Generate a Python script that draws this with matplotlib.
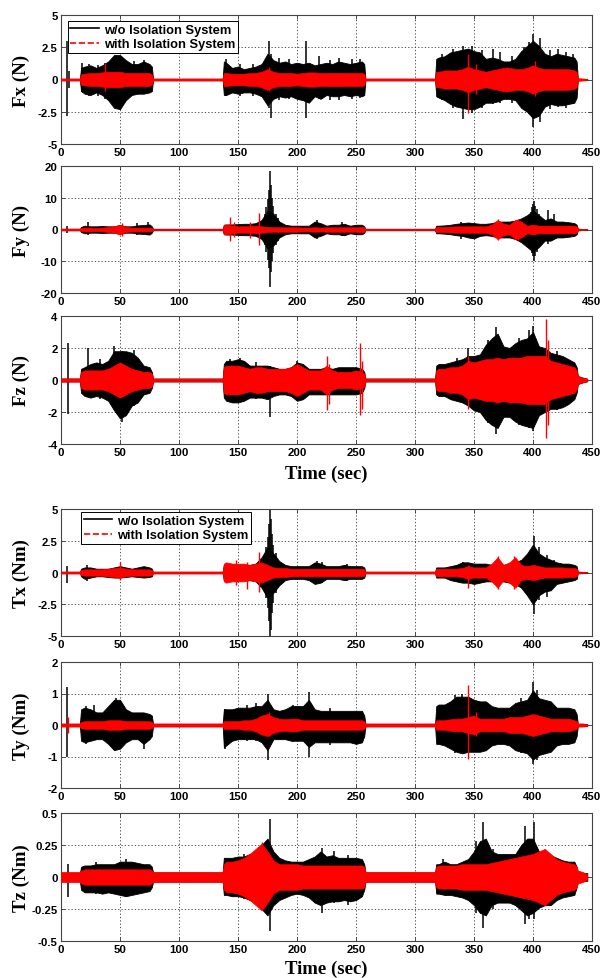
import matplotlib
matplotlib.use('Agg')
import matplotlib.pyplot as plt
from matplotlib.lines import Line2D

# ---------------- data (envelopes) ----------------
T = [0, 16,
     17, 20, 25, 30, 35, 40, 45, 50, 55, 60, 65, 70, 75, 77,
     78, 100, 120, 137,
     138, 140, 145, 150, 155, 160, 165, 170, 175, 180, 185, 190, 195, 200, 205, 210, 215, 220, 225, 230, 235, 240, 245, 250, 255, 257,
     258, 280, 300, 317,
     318, 320, 325, 330, 335, 340, 345, 350, 355, 360, 365, 370, 375, 380, 385, 390, 395, 400, 405, 410, 415, 420, 425, 430, 435, 437,
     438, 442, 446]

# Fx
FX_BLK_HI = [0.05, 0.05,
             0.9, 1.0, 1.1, 0.9, 1.1, 1.4, 1.9, 1.9, 1.5, 1.2, 1.2, 1.4, 1.2, 1.0,
             0.05, 0.05, 0.05, 0.05,
             1.4, 1.3, 0.9, 1.0, 0.8, 0.9, 1.0, 1.2, 2.0, 1.5, 1.3, 1.4, 1.2, 1.3, 1.2, 1.3, 1.1, 1.2, 1.3, 1.2, 1.4, 1.3, 1.2, 1.3, 1.4, 1.2,
             0.05, 0.05, 0.05, 0.05,
             1.6, 1.7, 1.8, 2.1, 2.2, 2.3, 2.4, 2.2, 2.1, 1.6, 1.7, 1.6, 1.4, 1.4, 1.6, 2.2, 2.6, 3.0, 2.6, 2.0, 1.8, 2.0, 1.9, 1.8, 1.7, 1.4,
             0.04, 0.04, 0.04]
FX_BLK_LO = [-0.05, -0.05,
             -0.9, -1.1, -1.2, -1.0, -1.2, -1.6, -2.2, -2.3, -1.6, -1.2, -1.1, -1.1, -1.0, -0.9,
             -0.05, -0.05, -0.05, -0.05,
             -1.2, -1.2, -1.0, -1.1, -1.0, -1.0, -1.1, -1.3, -2.0, -1.5, -1.3, -1.4, -1.3, -1.5, -1.6, -1.8, -1.3, -1.5, -1.2, -1.3, -1.3, -1.2, -1.3, -1.2, -1.3, -1.2,
             -0.05, -0.05, -0.05, -0.05,
             -1.3, -1.4, -1.6, -1.9, -2.1, -2.2, -2.3, -2.3, -2.1, -1.8, -1.8, -1.7, -1.5, -1.5, -1.6, -2.2, -2.5, -3.0, -2.8, -2.1, -1.9, -2.0, -2.0, -1.9, -1.8, -1.4,
             -0.04, -0.04, -0.04]
FX_RED = [0.08, 0.08,
          0.4, 0.45, 0.5, 0.5, 0.55, 0.6, 0.6, 0.6, 0.5, 0.5, 0.5, 0.5, 0.5, 0.4,
          0.08, 0.08, 0.08, 0.08,
          0.5, 0.5, 0.45, 0.45, 0.45, 0.5, 0.5, 0.6, 0.8, 0.6, 0.5, 0.5, 0.5, 0.45, 0.5, 0.55, 0.55, 0.5, 0.5, 0.5, 0.5, 0.5, 0.5, 0.5, 0.5, 0.45,
          0.08, 0.08, 0.08, 0.08,
          0.6, 0.6, 0.7, 0.7, 0.7, 0.8, 1.0, 0.8, 0.7, 0.6, 0.7, 0.8, 0.9, 0.9, 0.8, 0.8, 0.9, 1.1, 0.9, 0.8, 0.8, 0.8, 0.8, 0.8, 0.7, 0.6,
          0.1, 0.08, 0.04]
FX_BLK_SPK = [(5, 3.0, -2.8), (7, 0.65, -0.65), (17.5, 1.3, -1.0), (24, 1.2, -1.3), (31, 1.1, -1.3),
              (37, 1.3, -1.5), (62, 1.4, -1.2), (70, 1.55, -1.0), (140, 1.6, -1.3), (152, 1.2, -1.3),
              (163, 1.2, -1.3), (176, 3.0, -2.2), (178, 2.0, -3.0), (185, 1.7, -1.6), (193, 1.6, -1.5),
              (208, 3.0, -3.0), (219, 1.8, -1.5), (228, 1.5, -1.6), (236, 1.7, -1.6), (247, 1.6, -1.5),
              (253, 1.6, -1.4), (323, 2.0, -1.6), (332, 2.4, -2.2), (341, 2.6, -3.1), (348, 2.6, -2.6),
              (357, 2.3, -2.2), (366, 2.4, -1.9), (372, 2.1, -1.8), (382, 1.8, -1.8), (392, 2.5, -2.4),
              (397, 2.9, -2.7), (400, 3.5, -3.7), (406, 3.2, -3.3), (414, 2.3, -2.3), (421, 2.4, -2.1),
              (428, 2.1, -2.2), (434, 2.0, -1.9)]
FX_RED_SPK = [(37, 1.3, -0.9), (176, 1.0, -0.9), (345, 2.0, -2.6), (352, 1.2, -1.1), (378, 1.0, -1.0),
              (402, 1.4, -1.3)]

# Fy
FY_BLK_HI = [0.2, 0.2,
             0.8, 1.2, 1.0, 1.0, 1.1, 1.0, 1.0, 1.4, 1.0, 1.0, 1.3, 1.4, 1.6, 1.0,
             0.2, 0.2, 0.2, 0.2,
             1.5, 1.6, 1.6, 1.7, 1.8, 1.8, 2.0, 3.0, 6.0, 5.0, 2.5, 1.5, 1.2, 1.2, 1.2, 1.2, 2.5, 2.0, 1.2, 1.5, 1.5, 1.8, 1.2, 1.5, 1.5, 1.0,
             0.2, 0.2, 0.2, 0.2,
             1.2, 1.2, 1.3, 1.5, 1.8, 2.0, 2.2, 2.0, 1.8, 1.8, 2.0, 2.5, 2.5, 2.5, 2.8, 3.5, 4.5, 6.0, 4.5, 3.0, 3.5, 2.5, 2.5, 2.3, 2.0, 1.5,
             0.2, 0.15, 0.1]
FY_BLK_LO = [-0.2, -0.2,
             -0.8, -1.2, -1.0, -1.0, -1.1, -1.0, -1.0, -1.4, -1.0, -1.0, -1.3, -1.4, -1.6, -1.0,
             -0.2, -0.2, -0.2, -0.2,
             -1.5, -1.6, -1.6, -1.7, -1.8, -1.8, -2.0, -3.0, -6.0, -5.0, -2.5, -1.5, -1.2, -1.2, -1.2, -1.2, -2.5, -2.0, -1.2, -1.5, -1.5, -1.8, -1.2, -1.5, -1.5, -1.0,
             -0.2, -0.2, -0.2, -0.2,
             -1.2, -1.2, -1.3, -1.5, -1.8, -2.0, -2.5, -2.8, -2.0, -1.8, -2.0, -2.5, -2.5, -2.5, -3.0, -4.0, -5.5, -7.0, -5.5, -3.5, -3.5, -2.5, -2.5, -2.3, -2.0, -1.5,
             -0.2, -0.15, -0.1]
FY_RED = [0.3, 0.3,
          0.5, 0.6, 0.6, 0.5, 0.6, 0.8, 1.0, 1.5, 0.8, 0.6, 0.6, 0.6, 0.6, 0.5,
          0.25, 0.25, 0.25, 0.25,
          1.5, 1.5, 1.2, 1.0, 1.0, 1.0, 1.2, 1.0, 0.8, 0.7, 0.7, 0.7, 0.7, 0.7, 0.6, 0.6, 0.7, 0.6, 0.7, 0.7, 0.7, 0.7, 0.7, 0.7, 0.8, 0.7,
          0.25, 0.25, 0.25, 0.25,
          0.8, 0.8, 0.8, 0.9, 1.0, 1.0, 1.0, 1.0, 1.0, 1.0, 1.5, 3.0, 1.8, 1.5, 3.0, 2.5, 1.2, 1.5, 1.2, 1.2, 1.2, 1.2, 1.2, 1.2, 1.2, 1.0,
          0.3, 0.2, 0.1]
FY_BLK_SPK = [(5, 1.0, -1.0), (23, 2.3, -1.8), (64, 2.0, -1.6), (74, 2.3, -1.8),
              (173, 5.0, -5.0), (174, 7.0, -7.0), (175, 9.5, -9.5), (176, 12.5, -12.0), (177, 18.5, -18.2),
              (178, 14.0, -13.5), (179, 10.0, -10.0), (180, 7.5, -7.5), (182, 5.0, -5.0), (184, 3.5, -3.5),
              (217, 3.0, -2.9), (238, 2.3, -2.0), (339, 2.3, -2.9), (398, 5.5, -6.0), (399, 7.0, -7.5),
              (400, 8.0, -8.5), (401, 9.1, -9.9), (402, 7.5, -8.5), (403, 6.5, -7.0), (405, 5.0, -5.5),
              (413, 6.0, -4.5), (418, 4.8, -3.0)]
FY_RED_SPK = [(52, 2.2, -2.0), (143, 3.8, -3.6), (147, 2.5, -2.5), (160, 2.5, -2.6), (168, 5.1, -5.0),
              (370, 3.3, -3.2), (387, 3.3, -3.2)]

# Fz
FZ_BLK_HI = [0.09, 0.09,
             0.7, 0.8, 1.0, 1.1, 1.0, 1.2, 1.8, 1.8, 1.8, 1.7, 1.4, 0.9, 0.8, 0.5,
             0.09, 0.09, 0.09, 0.09,
             1.0, 1.2, 1.2, 1.3, 1.2, 0.9, 0.9, 0.9, 0.9, 0.8, 0.7, 0.7, 0.8, 1.1, 1.0, 0.7, 0.7, 0.7, 0.8, 0.7, 0.8, 0.8, 0.8, 0.8, 0.7, 0.5,
             0.09, 0.09, 0.09, 0.09,
             0.9, 1.0, 1.0, 1.1, 1.2, 1.3, 1.5, 1.5, 1.6, 2.2, 2.6, 2.9, 2.1, 2.0, 2.3, 2.5, 2.6, 3.0, 2.1, 2.0, 1.7, 1.6, 1.5, 1.3, 1.1, 0.8,
             0.25, 0.15, 0.08]
FZ_BLK_LO = [-0.09, -0.09,
             -0.8, -1.0, -1.1, -1.0, -1.1, -1.3, -1.9, -2.4, -2.2, -1.6, -1.4, -0.9, -0.8, -0.5,
             -0.09, -0.09, -0.09, -0.09,
             -1.1, -1.3, -1.4, -1.4, -1.3, -1.1, -1.1, -1.1, -1.2, -1.0, -0.9, -0.9, -1.0, -1.3, -1.2, -0.9, -0.9, -0.9, -0.9, -0.9, -0.9, -0.9, -0.9, -0.9, -0.8, -0.5,
             -0.09, -0.09, -0.09, -0.09,
             -0.9, -1.0, -1.0, -1.2, -1.3, -1.4, -1.6, -1.9, -2.0, -2.5, -2.8, -3.0, -2.3, -2.3, -2.6, -2.8, -2.9, -3.0, -2.2, -2.0, -1.8, -1.8, -1.7, -1.5, -1.2, -0.8,
             -0.25, -0.15, -0.08]
FZ_RED = [0.1, 0.1,
          0.5, 0.6, 0.6, 0.6, 0.6, 0.7, 0.9, 1.1, 0.9, 0.7, 0.6, 0.5, 0.5, 0.4,
          0.09, 0.09, 0.09, 0.09,
          0.8, 0.9, 0.9, 0.9, 0.8, 0.7, 0.8, 0.8, 0.7, 0.7, 0.7, 0.7, 0.8, 1.0, 0.8, 0.6, 0.6, 0.6, 0.9, 0.6, 0.5, 0.5, 0.5, 0.6, 0.5, 0.4,
          0.09, 0.09, 0.09, 0.09,
          0.6, 0.7, 0.7, 0.8, 0.8, 0.9, 1.2, 1.1, 1.2, 1.3, 1.3, 1.4, 1.3, 1.4, 1.4, 1.4, 1.5, 1.5, 1.5, 1.5, 1.2, 1.1, 1.0, 0.9, 0.8, 0.6,
          0.25, 0.15, 0.08]
FZ_BLK_SPK = [(6, 2.3, -2.1), (23, 2.0, -0.9), (33, 1.3, -1.2), (45, 2.1, -1.5), (52, 1.8, -2.6),
              (62, 1.9, -1.6), (143, 1.3, -1.4), (152, 1.4, -1.4), (165, 1.1, -1.2), (177, 0.9, -2.3),
              (200, 1.2, -1.3), (336, 1.4, -1.3), (345, 2.0, -1.5), (362, 2.5, -2.7), (369, 3.3, -3.4),
              (388, 2.6, -2.8), (397, 3.1, -3.0), (400, 3.4, -3.2), (420, 1.8, -1.9)]
FZ_RED_SPK = [(225, 1.5, -1.9), (227, 1.0, -1.5), (253, 2.3, -2.2), (255, 1.2, -1.8), (345, 1.5, -1.8),
              (411, 3.8, -3.6), (413, 2.5, -2.8)]

# Tx
TX_BLK_HI = [0.05, 0.05,
             0.3, 0.4, 0.4, 0.3, 0.3, 0.3, 0.4, 0.5, 0.4, 0.3, 0.4, 0.5, 0.4, 0.3,
             0.05, 0.05, 0.05, 0.05,
             0.6, 0.6, 0.6, 0.5, 0.5, 0.6, 0.7, 1.2, 2.0, 1.5, 0.9, 0.6, 0.5, 0.5, 0.5, 0.5, 0.8, 0.7, 0.5, 0.5, 0.5, 0.6, 0.5, 0.5, 0.5, 0.4,
             0.05, 0.05, 0.05, 0.05,
             0.4, 0.4, 0.4, 0.5, 0.6, 0.8, 0.8, 0.7, 0.7, 0.7, 0.6, 0.6, 0.6, 0.7, 0.8, 1.0, 1.5, 2.2, 1.5, 1.2, 1.0, 0.8, 0.7, 0.7, 0.6, 0.5,
             0.05, 0.05, 0.05]
TX_BLK_LO = [-0.05, -0.05,
             -0.3, -0.5, -0.4, -0.3, -0.3, -0.35, -0.4, -0.4, -0.35, -0.3, -0.35, -0.4, -0.35, -0.3,
             -0.05, -0.05, -0.05, -0.05,
             -0.6, -0.6, -0.6, -0.5, -0.5, -0.6, -0.7, -1.2, -2.0, -1.6, -1.0, -0.6, -0.5, -0.5, -0.5, -0.6, -0.9, -0.8, -0.5, -0.5, -0.5, -0.6, -0.5, -0.5, -0.5, -0.4,
             -0.05, -0.05, -0.05, -0.05,
             -0.4, -0.4, -0.4, -0.6, -0.7, -0.8, -0.8, -0.9, -0.8, -0.7, -0.7, -0.7, -0.7, -0.8, -0.9, -1.2, -1.8, -2.5, -1.8, -1.5, -1.4, -0.9, -0.8, -0.7, -0.6, -0.5,
             -0.05, -0.05, -0.05]
TX_RED = [0.08, 0.08,
          0.2, 0.25, 0.25, 0.25, 0.25, 0.3, 0.35, 0.4, 0.3, 0.25, 0.25, 0.25, 0.25, 0.2,
          0.08, 0.08, 0.08, 0.08,
          0.7, 0.8, 0.7, 0.7, 0.7, 0.6, 0.7, 0.8, 0.6, 0.4, 0.35, 0.35, 0.3, 0.3, 0.3, 0.3, 0.3, 0.3, 0.3, 0.3, 0.3, 0.3, 0.3, 0.3, 0.3, 0.25,
          0.08, 0.08, 0.08, 0.08,
          0.3, 0.3, 0.3, 0.3, 0.3, 0.35, 0.5, 0.4, 0.4, 0.4, 0.7, 1.2, 0.6, 0.8, 1.2, 0.6, 0.5, 0.6, 0.5, 0.4, 0.4, 0.4, 0.4, 0.35, 0.35, 0.3,
          0.08, 0.05, 0.03]
TX_BLK_SPK = [(5, 0.5, -0.8), (22, 0.6, -0.7), (174, 2.0, -2.0), (175, 2.8, -2.8), (176, 3.8, -3.8),
              (177, 5.0, -5.0), (178, 4.2, -4.5), (179, 3.0, -3.2), (180, 2.2, -2.4), (182, 1.5, -1.6),
              (217, 0.9, -0.9), (221, 0.8, -0.8), (242, 0.65, -0.7), (341, 0.85, -0.8), (401, 2.9, -3.3),
              (405, 2.0, -2.2), (412, 1.4, -1.9), (418, 1.0, -1.1)]
TX_RED_SPK = [(50, 0.8, -0.6), (148, 1.0, -1.0), (158, 0.8, -1.3), (168, 1.6, -1.5), (345, 0.6, -1.2),
              (370, 1.3, -1.3), (384, 1.3, -1.3)]

# Ty
TY_BLK_HI = [0.03, 0.03,
             0.5, 0.55, 0.5, 0.4, 0.4, 0.6, 0.8, 0.8, 0.5, 0.4, 0.4, 0.4, 0.35, 0.3,
             0.03, 0.03, 0.03, 0.03,
             0.5, 0.5, 0.5, 0.55, 0.55, 0.55, 0.6, 0.6, 0.8, 0.5, 0.45, 0.5, 0.6, 0.6, 0.6, 0.8, 0.5, 0.45, 0.45, 0.45, 0.45, 0.45, 0.45, 0.45, 0.45, 0.3,
             0.03, 0.03, 0.03, 0.03,
             0.6, 0.65, 0.65, 0.75, 0.9, 0.9, 0.9, 0.8, 0.75, 0.75, 0.6, 0.55, 0.55, 0.55, 0.7, 0.75, 0.8, 1.1, 0.85, 0.8, 0.75, 0.55, 0.55, 0.55, 0.5, 0.35,
             0.03, 0.03, 0.03]
TY_BLK_LO = [-0.03, -0.03,
             -0.5, -0.55, -0.5, -0.45, -0.45, -0.6, -0.8, -0.75, -0.55, -0.45, -0.45, -0.6, -0.45, -0.35,
             -0.03, -0.03, -0.03, -0.03,
             -0.7, -0.65, -0.5, -0.45, -0.45, -0.45, -0.45, -0.55, -0.8, -0.45, -0.45, -0.45, -0.5, -0.5, -0.5, -0.7, -0.55, -0.55, -0.55, -0.55, -0.55, -0.55, -0.55, -0.6, -0.55, -0.35,
             -0.03, -0.03, -0.03, -0.03,
             -0.6, -0.6, -0.65, -0.75, -0.85, -0.9, -0.85, -0.85, -0.85, -0.8, -0.65, -0.6, -0.6, -0.65, -0.8, -0.85, -0.9, -1.1, -0.95, -0.9, -0.85, -0.65, -0.6, -0.6, -0.55, -0.35,
             -0.03, -0.03, -0.03]
TY_RED = [0.05, 0.05,
          0.1, 0.12, 0.12, 0.12, 0.12, 0.15, 0.15, 0.15, 0.12, 0.12, 0.12, 0.12, 0.12, 0.1,
          0.05, 0.05, 0.05, 0.05,
          0.12, 0.12, 0.12, 0.12, 0.15, 0.15, 0.2, 0.3, 0.35, 0.25, 0.2, 0.18, 0.2, 0.2, 0.15, 0.15, 0.15, 0.15, 0.15, 0.15, 0.15, 0.15, 0.15, 0.15, 0.15, 0.12,
          0.05, 0.05, 0.05, 0.05,
          0.15, 0.15, 0.15, 0.18, 0.2, 0.2, 0.25, 0.3, 0.2, 0.2, 0.2, 0.2, 0.2, 0.25, 0.25, 0.25, 0.3, 0.35, 0.3, 0.25, 0.2, 0.2, 0.2, 0.2, 0.15, 0.12,
          0.05, 0.05, 0.03]
TY_BLK_SPK = [(5, 1.2, -1.03), (21, 0.6, -0.6), (28, 0.65, -0.4), (47, 0.85, -0.6), (70, 0.35, -0.75),
              (139, 0.5, -0.75), (158, 0.65, -0.5), (165, 0.7, -0.5), (175, 1.0, -1.1), (197, 0.65, -0.55),
              (210, 1.05, -1.0), (228, 0.55, -0.65), (334, 0.95, -0.9), (340, 1.0, -0.85), (390, 0.85, -0.9),
              (400, 1.35, -1.25), (403, 1.1, -1.1)]
TY_RED_SPK = [(6, 0.25, -0.25), (176, 0.4, -0.35), (345, 1.27, -1.08), (352, 0.4, -0.35)]

# Tz
TZ_BLK_HI = [0.03, 0.03,
             0.08, 0.09, 0.09, 0.1, 0.1, 0.1, 0.1, 0.12, 0.12, 0.12, 0.11, 0.1, 0.1, 0.08,
             0.035, 0.035, 0.035, 0.035,
             0.15, 0.15, 0.15, 0.16, 0.16, 0.18, 0.2, 0.25, 0.3, 0.2, 0.15, 0.13, 0.12, 0.12, 0.12, 0.14, 0.16, 0.2, 0.16, 0.17, 0.15, 0.15, 0.15, 0.15, 0.14, 0.1,
             0.035, 0.035, 0.035, 0.035,
             0.1, 0.1, 0.12, 0.1, 0.1, 0.12, 0.14, 0.2, 0.28, 0.3, 0.2, 0.18, 0.18, 0.18, 0.18, 0.25, 0.3, 0.3, 0.2, 0.18, 0.17, 0.15, 0.13, 0.12, 0.12, 0.08,
             0.03, 0.03, 0.03]
TZ_BLK_LO = [-0.03, -0.03,
             -0.1, -0.12, -0.12, -0.12, -0.13, -0.12, -0.13, -0.14, -0.15, -0.14, -0.13, -0.12, -0.11, -0.08,
             -0.035, -0.035, -0.035, -0.035,
             -0.14, -0.14, -0.15, -0.15, -0.16, -0.18, -0.2, -0.25, -0.3, -0.22, -0.18, -0.16, -0.14, -0.13, -0.14, -0.16, -0.2, -0.22, -0.2, -0.19, -0.19, -0.18, -0.19, -0.18, -0.15, -0.1,
             -0.035, -0.035, -0.035, -0.035,
             -0.13, -0.13, -0.14, -0.14, -0.15, -0.16, -0.18, -0.22, -0.28, -0.3, -0.22, -0.2, -0.2, -0.2, -0.22, -0.26, -0.3, -0.28, -0.24, -0.22, -0.22, -0.18, -0.16, -0.15, -0.14, -0.08,
             -0.03, -0.03, -0.03]
TZ_RED = [0.04, 0.04,
          0.05, 0.06, 0.06, 0.06, 0.06, 0.06, 0.06, 0.06, 0.06, 0.06, 0.06, 0.06, 0.06, 0.05,
          0.04, 0.04, 0.04, 0.04,
          0.1, 0.12, 0.12, 0.13, 0.15, 0.18, 0.22, 0.26, 0.2, 0.13, 0.1, 0.1, 0.1, 0.1, 0.09, 0.09, 0.09, 0.09, 0.09, 0.09, 0.09, 0.09, 0.09, 0.09, 0.09, 0.08,
          0.04, 0.04, 0.04, 0.04,
          0.08, 0.09, 0.09, 0.09, 0.09, 0.1, 0.1, 0.1, 0.1, 0.1, 0.11, 0.12, 0.13, 0.14, 0.15, 0.16, 0.17, 0.18, 0.2, 0.22, 0.18, 0.14, 0.12, 0.11, 0.1, 0.08,
          0.05, 0.04, 0.02]
TZ_BLK_SPK = [(6, 0.1, -0.16), (30, 0.12, -0.13), (55, 0.14, -0.16), (155, 0.18, -0.17), (177, 0.45, -0.42),
              (221, 0.23, -0.28), (231, 0.2, -0.2), (243, 0.17, -0.22), (324, 0.14, -0.14), (352, 0.28, -0.28),
              (358, 0.43, -0.4), (366, 0.22, -0.25), (393, 0.4, -0.37), (397, 0.3, -0.33), (401, 0.43, -0.33)]
TZ_RED_SPK = [(170, 0.27, -0.26)]

X_TICKS = [0, 50, 100, 150, 200, 250, 300, 350, 400, 450]
YT_FX = [-5, -2.5, 0, 2.5, 5]
YT_FY = [-20, -10, 0, 10, 20]
YT_FZ = [-4, -2, 0, 2, 4]
YT_TX = [-5, -2.5, 0, 2.5, 5]
YT_TY = [-2, -1, 0, 1, 2]
YT_TZ = [-0.5, -0.25, 0, 0.25, 0.5]
YLABELS = ['Fx (N)', 'Fy (N)', 'Fz (N)', 'Tx (Nm)', 'Ty (Nm)', 'Tz (Nm)']
LEGEND_LABELS = ['w/o Isolation System', 'with Isolation System']
XLABEL = 'Time (sec)'

# ---------------- drawing ----------------
W, H = 604, 979
fig = plt.figure(figsize=(W / 100, H / 100), dpi=100)
fig.patch.set_facecolor('white')

AX_L, AX_R = 61, 592
AX_TOP = [16, 167, 317, 510, 663, 814]
AX_BOT = [145, 294, 445, 637, 789, 942]

SANS = ['Liberation Sans', 'DejaVu Sans']
SERIF = ['Liberation Serif', 'DejaVu Serif']

panels = [
    (FX_BLK_HI, FX_BLK_LO, FX_RED, FX_BLK_SPK, FX_RED_SPK, YT_FX),
    (FY_BLK_HI, FY_BLK_LO, FY_RED, FY_BLK_SPK, FY_RED_SPK, YT_FY),
    (FZ_BLK_HI, FZ_BLK_LO, FZ_RED, FZ_BLK_SPK, FZ_RED_SPK, YT_FZ),
    (TX_BLK_HI, TX_BLK_LO, TX_RED, TX_BLK_SPK, TX_RED_SPK, YT_TX),
    (TY_BLK_HI, TY_BLK_LO, TY_RED, TY_BLK_SPK, TY_RED_SPK, YT_TY),
    (TZ_BLK_HI, TZ_BLK_LO, TZ_RED, TZ_BLK_SPK, TZ_RED_SPK, YT_TZ),
]


def fmt(v):
    if v == int(v):
        return str(int(v))
    return ('%g' % v)


axes = []
for i, (hi, lo, red, bspk, rspk, yt) in enumerate(panels):
    assert len(hi) == len(T) and len(lo) == len(T) and len(red) == len(T), i
    top, bot = AX_TOP[i], AX_BOT[i]
    ax = fig.add_axes([AX_L / W, 1 - bot / H, (AX_R - AX_L) / W, (bot - top) / H])
    axes.append(ax)
    ax.set_axisbelow(True)
    # without isolation (black)
    ax.fill_between(T, lo, hi, color='black', linewidth=0.6, zorder=2)
    ax.vlines([s[0] for s in bspk], [s[2] for s in bspk], [s[1] for s in bspk],
              color='black', linewidth=1.1, zorder=2)
    # with isolation (red)
    ax.fill_between(T, [-r for r in red], red, color='#ff0000', linewidth=0.5, zorder=3)
    ax.vlines([s[0] for s in rspk], [s[2] for s in rspk], [s[1] for s in rspk],
              color='#ff0000', linewidth=1.0, zorder=3)

    ax.set_xlim(0, 450)
    ax.set_ylim(yt[0], yt[-1])
    ax.set_xticks(X_TICKS)
    ax.set_xticklabels([str(x) for x in X_TICKS])
    ax.set_yticks(yt)
    ax.set_yticklabels([fmt(v) for v in yt])
    ax.grid(True, color='#333333', linestyle=(0, (1.5, 2.5)), linewidth=0.6)
    ax.tick_params(direction='in', length=3, width=0.6, top=True, right=True,
                   labelsize=8.2, pad=2.5, colors='#333333', labelcolor='black')
    for lab in ax.get_xticklabels() + ax.get_yticklabels():
        lab.set_fontfamily(SANS)
        lab.set_fontweight('bold')
    for sp in ax.spines.values():
        sp.set_color('#444444')
        sp.set_linewidth(0.8)
    ax.set_ylabel(YLABELS[i], fontfamily=SERIF, fontweight='bold', fontsize=13.6)
    ax.yaxis.set_label_coords(-0.058, 0.5)

handles = [Line2D([], [], color='black', linewidth=1.2),
           Line2D([], [], color='#ff0000', linewidth=1.2, linestyle='--')]
for idx, anchor in [(0, (0.013, 0.953)), (3, (0.038, 0.976))]:
    leg = axes[idx].legend(handles, LEGEND_LABELS, loc='upper left', bbox_to_anchor=anchor,
                           borderaxespad=0, frameon=True, fancybox=False, framealpha=1,
                           edgecolor='black', handlelength=2.2, handletextpad=0.4,
                           labelspacing=0.2, borderpad=0.2,
                           prop={'family': SANS, 'weight': 'bold', 'size': 9.3})
    leg.get_frame().set_linewidth(0.7)
    leg.set_zorder(10)

cx = (AX_L + AX_R) / 2 / W
fig.text(cx, 1 - 474 / H, XLABEL, ha='center', va='center', fontfamily=SERIF,
         fontweight='bold', fontsize=13.5)
fig.text(cx, 1 - 969 / H, XLABEL, ha='center', va='center', fontfamily=SERIF,
         fontweight='bold', fontsize=13.5)

fig.savefig('out.png', dpi=100, facecolor='white')
